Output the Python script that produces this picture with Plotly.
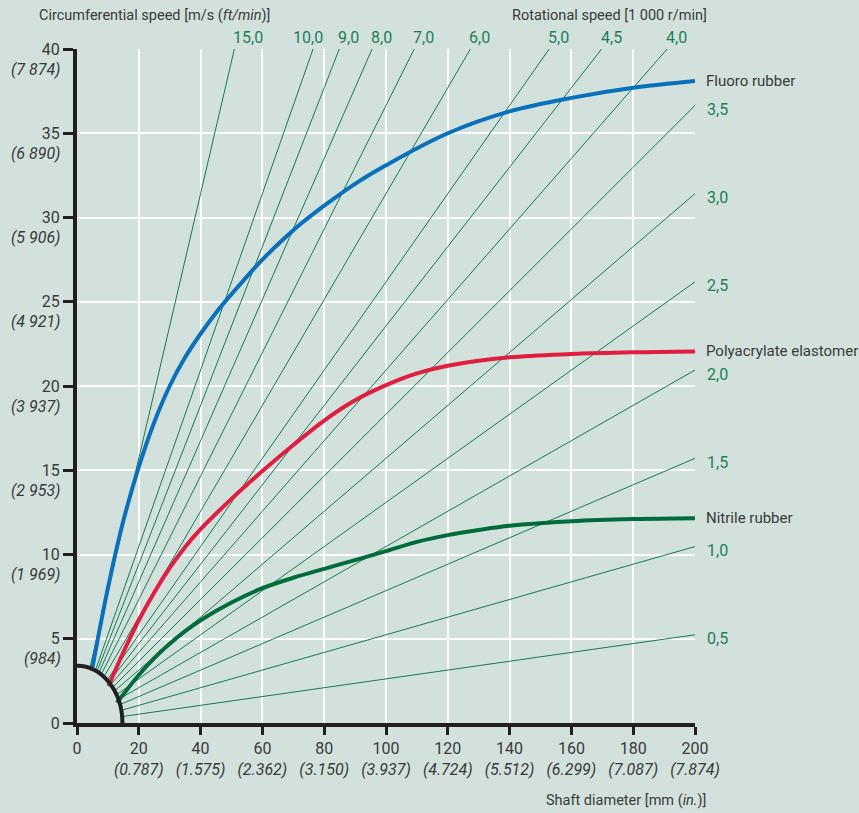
import math
import plotly.graph_objects as go

# rotational speeds [1 000 r/min] drawn as rays from the origin
rot_speeds = [15.0, 10.0, 9.0, 8.0, 7.0, 6.0, 5.0, 4.5, 4.0, 3.5, 3.0, 2.5, 2.0, 1.5, 1.0, 0.5]
rot_labels = ["15,0", "10,0", "9,0", "8,0", "7,0", "6,0", "5,0", "4,5", "4,0",
              "3,5", "3,0", "2,5", "2,0", "1,5", "1,0", "0,5"]

# material limit curves (shaft diameter mm -> circumferential speed m/s)
fluoro_d = [4.8, 10, 15, 20, 25, 30, 35, 40, 45, 50, 60, 70, 80, 90, 100, 120, 140, 160, 180, 200]
fluoro_v = [3.1, 8.0, 12.0, 15.2, 17.85, 20.0, 21.7, 23.1, 24.35, 25.45, 27.5, 29.25, 30.7, 32.0, 33.1, 35.0, 36.3, 37.1, 37.7, 38.1]

poly_d = [10.2, 15, 20, 25, 30, 35, 40, 50, 60, 70, 80, 90, 100, 110, 120, 140, 160, 180, 200]
poly_v = [2.2, 4.2, 6.1, 7.75, 9.2, 10.45, 11.5, 13.3, 14.95, 16.5, 17.95, 19.15, 20.05, 20.75, 21.2, 21.7, 21.9, 22.0, 22.05]

nitrile_d = [12.9, 20, 25, 30, 35, 40, 50, 60, 70, 80, 90, 100, 110, 120, 130, 140, 160, 180, 200]
nitrile_v = [1.2, 2.85, 3.85, 4.7, 5.45, 6.1, 7.15, 8.0, 8.62, 9.15, 9.67, 10.2, 10.75, 11.15, 11.45, 11.7, 11.97, 12.1, 12.15]

x_ticks = [0, 20, 40, 60, 80, 100, 120, 140, 160, 180, 200]
x_inch = ["", "(0.787)", "(1.575)", "(2.362)", "(3.150)", "(3.937)", "(4.724)",
          "(5.512)", "(6.299)", "(7.087)", "(7.874)"]
y_ticks = [0, 5, 10, 15, 20, 25, 30, 35, 40]
y_ftmin = ["", "(984)", "(1 969)", "(2 953)", "(3 937)", "(4 921)", "(5 906)", "(6 890)", "(7 874)"]

X_MAX, Y_MAX = 200, 40
ARC_A, ARC_B = 14.7, 3.4  # dead zone in the lower left corner

BG = "#d2e1dc"
LINE_GREEN = "#167a52"
LABEL_GREEN = "#1b7f5b"
TEXT = "#3a3a3a"
FONT = "Roboto, sans-serif"

fig = go.Figure()

# rotational speed rays, from the arc to the plot border
top_labels = []
side_labels = []
for n, lab in zip(rot_speeds, rot_labels):
    k = math.pi * n / 60.0  # m/s per mm
    d0 = 1.0 / math.sqrt(1.0 / ARC_A ** 2 + k ** 2 / ARC_B ** 2)
    if k * X_MAX <= Y_MAX:
        d1, v1 = X_MAX, k * X_MAX
        side_labels.append((v1, lab))
    else:
        d1, v1 = Y_MAX / k, Y_MAX
        top_labels.append((d1, lab))
    fig.add_trace(go.Scatter(
        x=[d0, d1], y=[k * d0, v1],
        mode="lines",
        line=dict(color=LINE_GREEN, width=1),
        hoverinfo="skip"
    ))

curves = [
    ("Fluoro rubber", fluoro_d, fluoro_v, "#0a70bb"),
    ("Polyacrylate elastomer", poly_d, poly_v, "#e01e3f"),
    ("Nitrile rubber", nitrile_d, nitrile_v, "#006c3c"),
]
for name, xs, ys, col in curves:
    fig.add_trace(go.Scatter(
        x=xs, y=ys,
        mode="lines",
        line=dict(color=col, width=4, shape="spline", smoothing=1.0),
        name=name,
        hoverinfo="skip"
    ))

annotations = []
for d1, lab in top_labels:
    annotations.append(dict(
        x=d1, y=1, xref="x", yref="paper", text=lab, showarrow=False,
        xanchor="left", yanchor="middle", xshift=-22 if lab == "10,0" else -3, yshift=12,
        font=dict(color=LABEL_GREEN, size=16, family=FONT)
    ))
for v1, lab in side_labels:
    annotations.append(dict(
        x=1, y=v1, xref="paper", yref="y", text=lab, showarrow=False,
        xanchor="left", yanchor="middle", xshift=10, yshift=-4,
        font=dict(color=LABEL_GREEN, size=16, family=FONT)
    ))
for name, xs, ys, col in curves:
    annotations.append(dict(
        x=1, y=ys[-1], xref="paper", yref="y", text=name, showarrow=False,
        xanchor="left", yanchor="middle", xshift=9,
        font=dict(color=TEXT, size=15, family=FONT)
    ))
for val, lab in zip(y_ticks, y_ftmin):
    if lab:
        annotations.append(dict(
            x=0, y=val, xref="paper", yref="y", text="<i>" + lab + "</i>", showarrow=False,
            xanchor="right", yanchor="middle", xshift=-14, yshift=-20,
            font=dict(color=TEXT, size=16, family=FONT)
        ))

annotations += [
    dict(x=0, y=1, xref="paper", yref="paper", xanchor="left", yanchor="middle",
         xshift=-40, yshift=34, showarrow=False,
         text="Circumferential speed [m/s (<i>ft/min</i>)]",
         font=dict(color=TEXT, size=14.5, family=FONT)),
    dict(x=1, y=1, xref="paper", yref="paper", xanchor="right", yanchor="middle",
         xshift=14, yshift=34, showarrow=False,
         text="Rotational speed [1 000 r/min]",
         font=dict(color=TEXT, size=14.5, family=FONT)),
    dict(x=1, y=0, xref="paper", yref="paper", xanchor="right", yanchor="middle",
         xshift=13, yshift=-77, showarrow=False,
         text="Shaft diameter [mm (<i>in.</i>)]",
         font=dict(color=TEXT, size=14.5, family=FONT)),
]

x_text = [str(t) + ("<br><i>" + s + "</i>" if s else "") for t, s in zip(x_ticks, x_inch)]

fig.update_layout(
    width=859, height=813,
    paper_bgcolor=BG, plot_bgcolor=BG,
    margin=dict(l=77, r=164, t=49, b=90),
    showlegend=False,
    font=dict(family=FONT, color=TEXT),
    xaxis=dict(
        range=[0, X_MAX], tickvals=x_ticks, ticktext=x_text,
        showgrid=True, gridcolor="white", gridwidth=1.5,
        zeroline=False, showline=True, linecolor="#231f20", linewidth=4,
        ticks="outside", ticklen=8, tickwidth=2.5, tickcolor="#231f20",
        tickfont=dict(size=16, color=TEXT, family=FONT)
    ),
    yaxis=dict(
        range=[0, Y_MAX], tickvals=y_ticks, ticktext=[str(t) for t in y_ticks],
        showgrid=True, gridcolor="white", gridwidth=1.5,
        zeroline=False, showline=True, linecolor="#231f20", linewidth=4,
        ticks="outside", ticklen=10, tickwidth=2.5, tickcolor="#231f20",
        tickfont=dict(size=16, color=TEXT, family=FONT)
    ),
    annotations=annotations,
    shapes=[dict(
        type="circle", xref="x", yref="y",
        x0=-ARC_A, x1=ARC_A, y0=-ARC_B, y1=ARC_B,
        line=dict(color="#231f20", width=4), layer="above"
    )],
)

fig.write_html(
    "out.html",
    config={"displayModeBar": False},
    post_script="document.body.style.margin='0';document.body.style.background='%s';" % BG
)
